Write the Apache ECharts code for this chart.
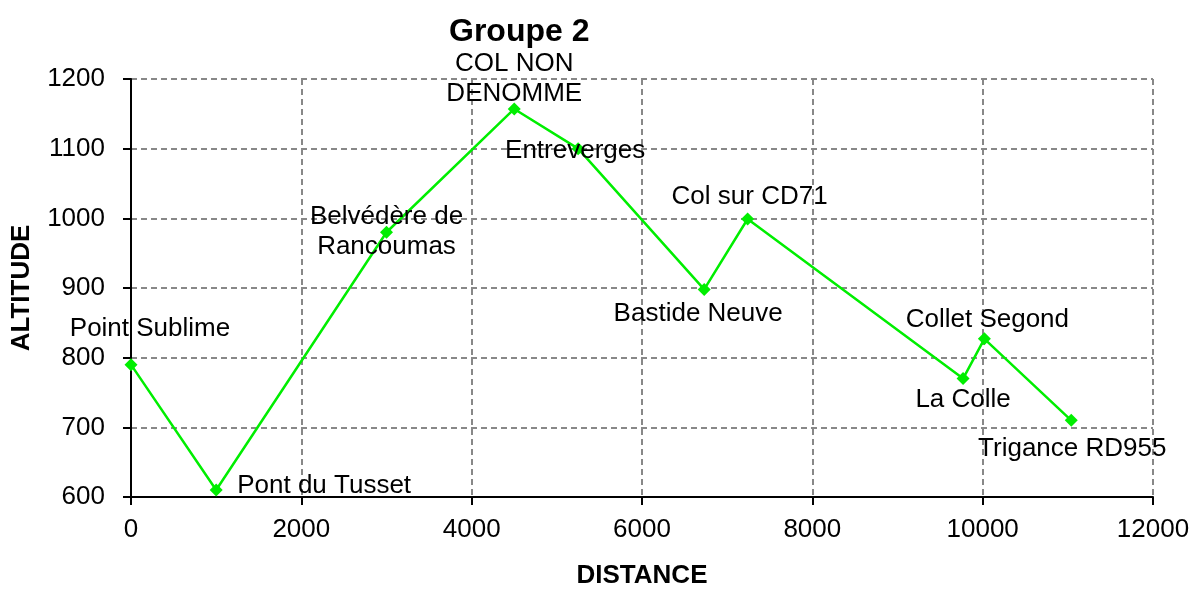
<!DOCTYPE html>
<html>
<head>
<meta charset="utf-8">
<script src="https://cdn.jsdelivr.net/npm/echarts@6/dist/echarts.min.js"></script>
<style>
  html, body { margin: 0; padding: 0; background: #fff; }
  #chart { width: 1196px; height: 594px; }
</style>
</head>
<body>
<div id="chart"></div>
<script>
// profile data
var places = ["Point Sublime", "Pont du Tusset", "Belvédère de\nRancoumas", "COL NON\nDENOMME",
  "Entreverges", "Bastide Neuve", "Col sur CD71", "La Colle", "Collet Segond", "Trigance RD955"];
var distances = [0, 1000, 3000, 4500, 5250, 6730, 7240, 9770, 10020, 11040];
var altitudes = [790, 610, 980, 1157, 1100, 898, 999, 770, 827, 710];
var xTicks = [0, 2000, 4000, 6000, 8000, 10000, 12000];
var yTicks = [600, 700, 800, 900, 1000, 1100, 1200];

// where each label sits relative to its point (px)
var labelOffsets = [[19, -36], [21, -4], [0, 0], [0, -30], [-3, 2],
  [-6, 24], [2, -22], [0, 21], [3, -19], [1, 28]];

var font = "'Liberation Sans', Arial, sans-serif";
var chart = echarts.init(document.getElementById("chart"));

var points = distances.map(function (d, i) {
  var lab = {
    show: true,
    position: "inside",
    offset: labelOffsets[i],
    formatter: places[i],
    align: i === 1 ? "left" : "center",
    verticalAlign: "middle",
    color: "#000",
    fontFamily: font,
    fontSize: 26,
    lineHeight: 30
  };
  return { value: [d, altitudes[i]], label: lab };
});

var option = {
  backgroundColor: "#fff",
  animation: false,
  title: {
    text: "Groupe 2",
    left: 444,
    top: 11,
    textStyle: { fontFamily: font, fontSize: 32, fontWeight: "bold", color: "#000" }
  },
  grid: { left: 131, right: 43, top: 79, bottom: 97, outerBoundsMode: "none", containLabel: false },
  xAxis: {
    type: "value",
    min: xTicks[0],
    max: xTicks[xTicks.length - 1],
    interval: 2000,
    name: "DISTANCE",
    nameLocation: "middle",
    nameGap: 66,
    nameTextStyle: { fontFamily: font, fontSize: 26, fontWeight: "bold", color: "#000" },
    axisLine: { show: true, lineStyle: { color: "#000", width: 2 } },
    axisTick: { show: true, length: 8, lineStyle: { color: "#000", width: 2 } },
    axisLabel: { margin: 20, fontFamily: font, fontSize: 26, color: "#000",
      formatter: function (v) { return String(v); } },
    splitLine: { show: true, lineStyle: { color: "#888", width: 2, type: [6, 4] } }
  },
  yAxis: {
    type: "value",
    min: yTicks[0],
    max: yTicks[yTicks.length - 1],
    interval: 100,
    name: "ALTITUDE",
    nameLocation: "middle",
    nameGap: 96,
    nameTextStyle: { fontFamily: font, fontSize: 26, fontWeight: "bold", color: "#000" },
    axisLine: { show: true, lineStyle: { color: "#000", width: 2 } },
    axisTick: { show: true, length: 8, lineStyle: { color: "#000", width: 2 } },
    axisLabel: { margin: 26, fontFamily: font, fontSize: 26, color: "#000",
      formatter: function (v) { return String(v); } },
    splitLine: { show: true, lineStyle: { color: "#888", width: 2, type: [6, 4] } }
  },
  series: [{
    type: "line",
    data: points,
    symbol: "diamond",
    symbolSize: 13,
    lineStyle: { color: "#00ee00", width: 2.5 },
    itemStyle: { color: "#00ee00" },
    z: 3
  }]
};
chart.setOption(option);
</script>
</body>
</html>
